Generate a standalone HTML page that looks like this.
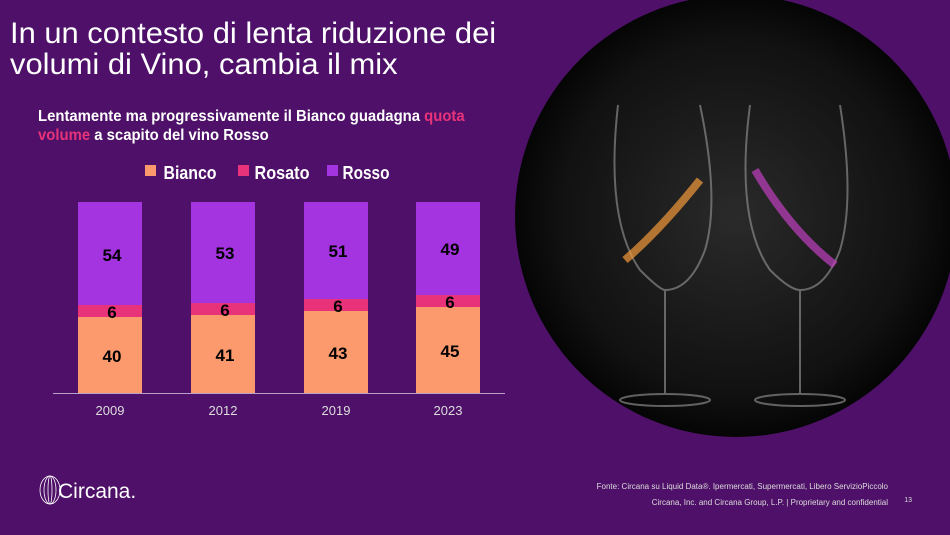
<!DOCTYPE html>
<html><head><meta charset="utf-8"><style>
body{margin:0;width:950px;height:535px;background:#4e1068;overflow:hidden;position:relative;font-family:"Liberation Sans",sans-serif;color:#fff}
.a{position:absolute}
</style></head><body>
<div class="a" style="left:10px;top:18px;font-size:30px;line-height:31px;color:#fff;transform:scaleX(1.03);transform-origin:left">In un contesto di lenta riduzione dei<br>volumi di Vino, cambia il mix</div>
<div class="a" style="left:38px;top:107px;font-size:16px;font-weight:bold;line-height:19px;transform:scaleX(0.93);transform-origin:left">Lentamente ma progressivamente il Bianco guadagna <span style="color:#e8337a">quota<br>volume</span> a scapito del vino Rosso</div>
<svg class="a" style="left:0;top:0" width="950" height="535">
<defs><radialGradient id="g" cx="0.5" cy="0.5" r="0.5"><stop offset="0" stop-color="#2a2a2a"/><stop offset="0.8" stop-color="#111"/><stop offset="1" stop-color="#050505"/></radialGradient></defs>
<circle cx="736" cy="216" r="221" fill="url(#g)"/>
<g fill="none" stroke="#888" stroke-width="2" opacity="0.7">
<path d="M618 105 Q605 220 640 270 Q660 290 665 290 Q690 290 705 250 Q720 200 700 105"/>
<line x1="665" y1="290" x2="665" y2="395"/><ellipse cx="665" cy="400" rx="45" ry="6"/>
<path d="M750 105 Q735 220 770 270 Q790 290 800 290 Q825 290 840 250 Q855 200 840 105"/>
<line x1="800" y1="290" x2="800" y2="395"/><ellipse cx="800" cy="400" rx="45" ry="6"/>
</g>
<path d="M625 260 Q660 230 700 180" stroke="#f39a3a" stroke-width="8" fill="none" opacity="0.7"/>
<path d="M755 170 Q790 230 835 265" stroke="#c040c0" stroke-width="8" fill="none" opacity="0.7"/>
<g font-family="Liberation Sans" font-weight="bold" font-size="17" text-anchor="middle" fill="#000">
<rect x="145" y="165" width="11" height="11" fill="#fc9a6e"/><text x="190" y="179" fill="#fff" font-size="18" textLength="53" lengthAdjust="spacingAndGlyphs">Bianco</text>
<rect x="238" y="165" width="11" height="11" fill="#e8337a"/><text x="282" y="179" fill="#fff" font-size="18" textLength="55" lengthAdjust="spacingAndGlyphs">Rosato</text>
<rect x="327" y="165" width="11" height="11" fill="#a433e0"/><text x="366" y="179" fill="#fff" font-size="18" textLength="47" lengthAdjust="spacingAndGlyphs">Rosso</text>
<rect x="78" y="202" width="64" height="103" fill="#a433e0"/><rect x="78" y="305" width="64" height="12" fill="#e8337a"/><rect x="78" y="317" width="64" height="76" fill="#fc9a6e"/>
<text x="112" y="261">54</text><text x="112" y="318">6</text><text x="112" y="362">40</text>
<rect x="191" y="202" width="64" height="101" fill="#a433e0"/><rect x="191" y="303" width="64" height="12" fill="#e8337a"/><rect x="191" y="315" width="64" height="78" fill="#fc9a6e"/>
<text x="225" y="259">53</text><text x="225" y="316">6</text><text x="225" y="361">41</text>
<rect x="304" y="202" width="64" height="97" fill="#a433e0"/><rect x="304" y="299" width="64" height="12" fill="#e8337a"/><rect x="304" y="311" width="64" height="82" fill="#fc9a6e"/>
<text x="338" y="257">51</text><text x="338" y="312">6</text><text x="338" y="359">43</text>
<rect x="416" y="202" width="64" height="93" fill="#a433e0"/><rect x="416" y="295" width="64" height="12" fill="#e8337a"/><rect x="416" y="307" width="64" height="86" fill="#fc9a6e"/>
<text x="450" y="255">49</text><text x="450" y="308">6</text><text x="450" y="357">45</text>
<line x1="53" y1="393.5" x2="505" y2="393.5" stroke="#b8a0c8" stroke-width="1"/>
<g font-weight="normal" font-size="13" fill="#ddd"><text x="110" y="415">2009</text><text x="223" y="415">2012</text><text x="336" y="415">2019</text><text x="448" y="415">2023</text></g>
</g>
<g fill="none" stroke="#fff" stroke-width="0.8"><ellipse cx="50" cy="490" rx="10" ry="14"/><ellipse cx="50" cy="490" rx="6" ry="14"/><ellipse cx="50" cy="490" rx="2" ry="14"/></g>
<text x="58" y="498" font-size="21" fill="#fff" font-family="Liberation Sans">Circana.</text>
<g font-size="8" fill="#ddd" text-anchor="end" font-family="Liberation Sans"><text x="888" y="489">Fonte: Circana su Liquid Data®.  Ipermercati, Supermercati, Libero ServizioPiccolo</text><text x="888" y="505">Circana, Inc. and Circana Group, L.P. |  Proprietary and confidential</text><text x="912" y="502" font-size="7">13</text></g>
</svg>
</body></html>
